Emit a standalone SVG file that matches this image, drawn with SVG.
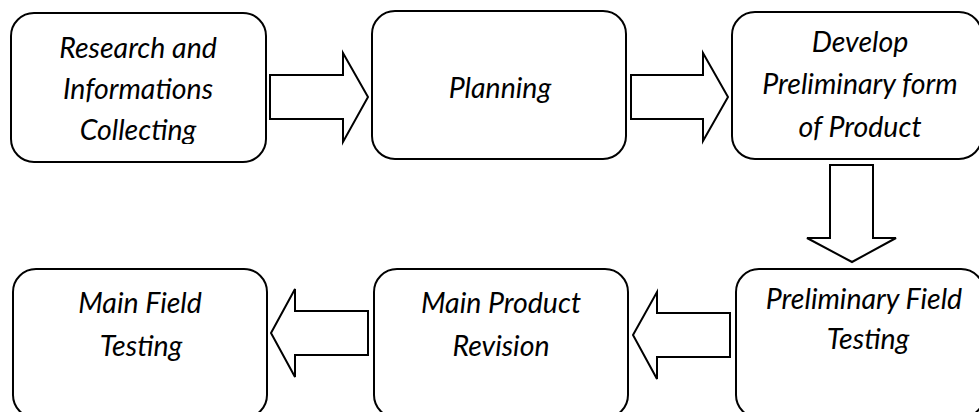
<svg xmlns="http://www.w3.org/2000/svg" width="979" height="412" viewBox="0 0 979 412">
  <style>
    .box { fill: #ffffff; stroke: #000000; stroke-width: 2; }
    .arrow { fill: #ffffff; stroke: #000000; stroke-width: 2; stroke-linejoin: miter; }
    .label { font-family: Lato, "Open Sans", "Liberation Sans", sans-serif; font-style: italic; font-size: 28.5px; fill: #000000; text-anchor: middle; }
  </style>
  <defs>
    <clipPath id="clip-research"><rect x="11" y="13" width="255" height="131"/></clipPath>
    <clipPath id="clip-develop"><rect x="732" y="12" width="250" height="131"/></clipPath>
  </defs>
  <rect width="979" height="412" fill="#ffffff"/>

  <!-- block arrows between the steps -->
  <g id="connectors">
    <polygon class="arrow" points="270,75 343,75 343,53 368,97 343,142 343,119 270,119"/>
    <polygon class="arrow" points="631,75 703,75 703,53 728,97 703,141 703,119 631,119"/>
    <polygon class="arrow" points="830,165 873,165 873,238 896,238 852,262 807,238 830,238"/>
    <polygon class="arrow" points="730,313 657,313 657,292 633,335 657,379 657,357 730,357"/>
    <polygon class="arrow" points="368,311 295,311 295,289 271,333 295,377 295,355 368,355"/>
  </g>

  <g id="research">
    <rect class="box" x="11" y="13" width="255" height="149" rx="23" ry="23"/>
    <g clip-path="url(#clip-research)">
      <text class="label" x="138" y="58">Research and</text>
      <text class="label" x="138" y="99">Informations</text>
      <text class="label" x="138" y="140">Collecting</text>
    </g>
  </g>

  <g id="planning">
    <rect class="box" x="372" y="11" width="254" height="148" rx="23" ry="23"/>
    <text class="label" x="500" y="98">Planning</text>
  </g>

  <g id="develop">
    <rect class="box" x="732" y="12" width="250" height="147" rx="23" ry="23"/>
    <g clip-path="url(#clip-develop)">
      <text class="label" x="860" y="52">Develop</text>
      <text class="label" x="860" y="94">Preliminary form</text>
      <text class="label" x="860" y="137">of Product</text>
    </g>
  </g>

  <g id="preliminary-testing">
    <rect class="box" x="736" y="269" width="248" height="149" rx="23" ry="23"/>
    <text class="label" x="864" y="309">Preliminary Field</text>
    <text class="label" x="868" y="349">Testing</text>
  </g>

  <g id="product-revision">
    <rect class="box" x="374" y="269" width="254" height="149" rx="23" ry="23"/>
    <text class="label" x="501" y="313">Main Product</text>
    <text class="label" x="501" y="356">Revision</text>
  </g>

  <g id="main-testing">
    <rect class="box" x="13" y="269" width="254" height="149" rx="23" ry="23"/>
    <text class="label" x="140" y="313">Main Field</text>
    <text class="label" x="141" y="356">Testing</text>
  </g>
</svg>
